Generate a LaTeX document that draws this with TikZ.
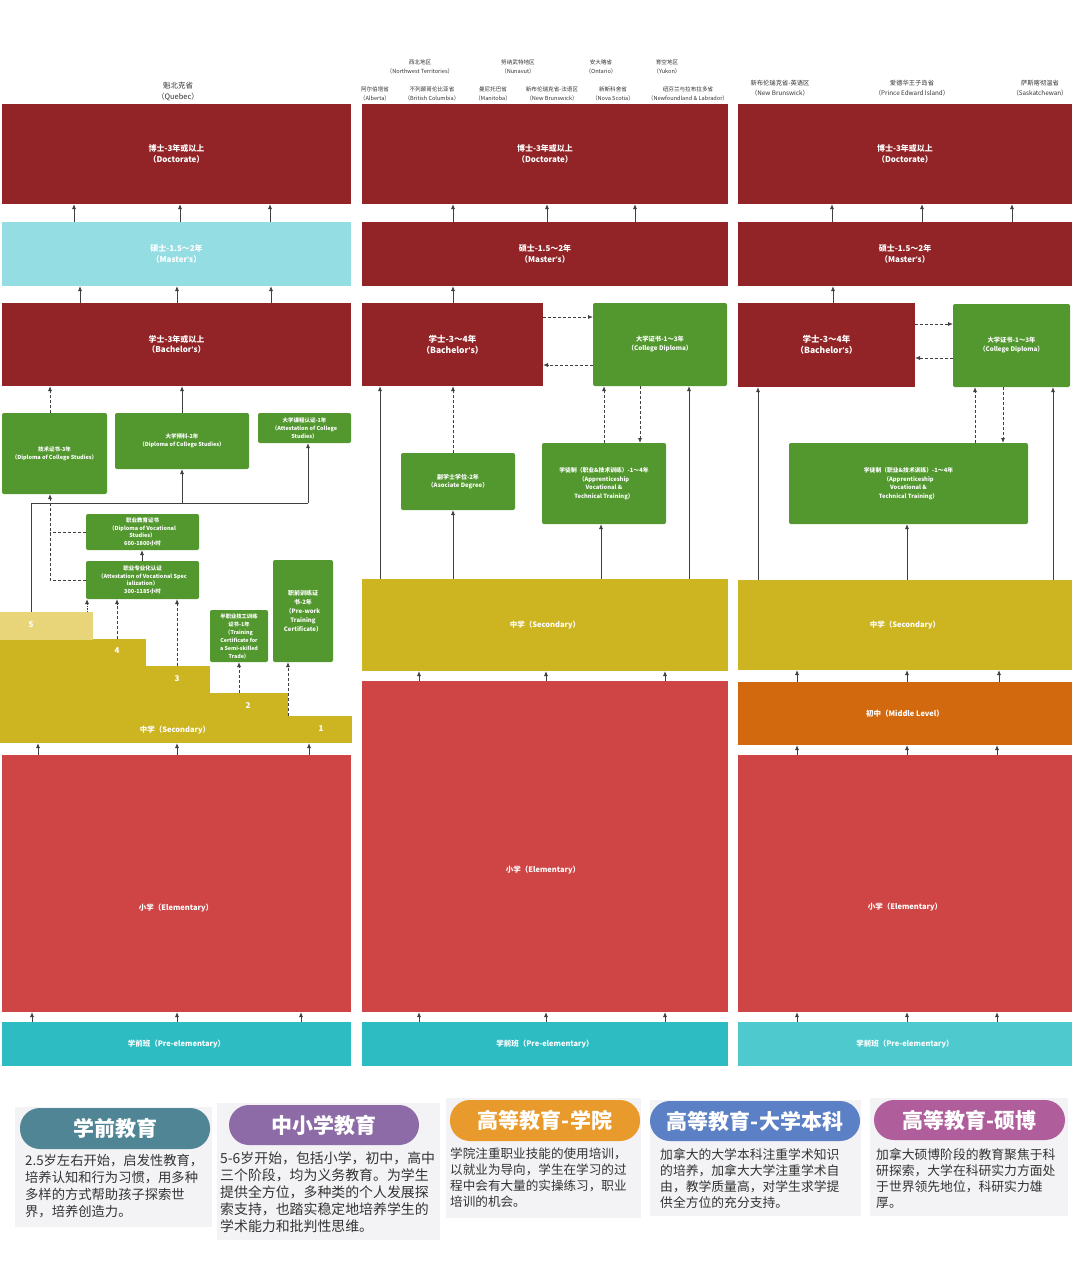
\documentclass[tikz,border=0pt]{standalone}
\usepackage{fontspec}
\setmainfont{Noto Sans CJK SC}
\newfontfamily\latf{Liberation Sans}
\usetikzlibrary{arrows.meta}
\definecolor{dred}{HTML}{922427}
\definecolor{lcyan}{HTML}{94DEE3}
\definecolor{grn}{HTML}{52982F}
\definecolor{ylw}{HTML}{CDB521}
\definecolor{lylw}{HTML}{E8D57A}
\definecolor{ered}{HTML}{CF4545}
\definecolor{teal1}{HTML}{2EBCC3}
\definecolor{teal2}{HTML}{4ECACE}
\definecolor{orng}{HTML}{D2690F}
\definecolor{arrc}{HTML}{404040}
\definecolor{hdrc}{HTML}{333333}
\definecolor{panelc}{HTML}{F3F3F5}
\definecolor{bodyc}{HTML}{333333}
\definecolor{p1}{HTML}{4F8595}
\definecolor{p2}{HTML}{8C6BA6}
\definecolor{p3}{HTML}{E89B2C}
\definecolor{p4}{HTML}{5B80C5}
\definecolor{p5}{HTML}{B05D9C}
\newcommand{\apo}{{\latf\bfseries '}}
\tikzset{
  blk/.style={inner sep=0pt, outer sep=0pt, text=white, align=center,
    font=\fontsize{8}{10.5}\selectfont\bfseries},
  gbox/.style={fill=grn, rounded corners=2pt, font=\fontsize{5.5}{8}\selectfont\bfseries},
  one/.style={font=\fontsize{7.5}{9}\selectfont\bfseries},
  arr/.style={draw=arrc, line width=0.8pt, -{Latex[length=5pt,width=4pt]}},
  darr/.style={arr, dash pattern=on 3pt off 2pt},
  dotarr/.style={arr, dash pattern=on 1.2pt off 1.2pt},
  pline/.style={draw=arrc, line width=0.8pt},
  dline/.style={draw=arrc, line width=0.8pt, dash pattern=on 3pt off 2pt},
  hdr/.style={align=center, text=hdrc, inner sep=0pt, font=\fontsize{5.6}{9}\selectfont},
  hdrq/.style={align=center, text=hdrc, inner sep=0pt, font=\fontsize{7.5}{11}\selectfont},
  stepnum/.style={text=white, inner sep=0pt, font=\fontsize{8}{9}\selectfont\bfseries},
  pill/.style={inner sep=0pt, outer sep=0pt, text=white, font=\fontsize{21}{24}\selectfont\bfseries},
  body/.style={inner sep=0pt, anchor=north west, align=left, text=bodyc},
}
\newcommand{\RB}[7]{\node[blk,#2,minimum width={(#5-#3)*1pt},minimum height={(#6-#4)*1pt}] (#1) at ({(#3+#5)/2},{(#4+#6)/2}) {#7};}
\newcommand{\up}[4][arr]{\draw[#1] (#2.north -| #4,0) -- (#3.south -| #4,0);}
\begin{document}
\begin{tikzpicture}[x=1pt,y=-1pt]
\useasboundingbox (0,0) rectangle (1080,1270);
\fill[white] (0,0) rectangle (1080,1270);

% ---------- headers
\node[hdrq] (hq) at (178,91.5) {魁北克省\\（Quebec）};
\node[hdr] (h21) at (420,67) {西北地区\\（Northwest Territories）};
\node[hdr] (h22) at (518,67) {努纳武特地区\\（Nunavut）};
\node[hdr] (h23) at (601,67) {安大略省\\（Ontario）};
\node[hdr] (h24) at (667,67) {育空地区\\（Yukon）};
\node[hdr] (h25) at (375,94) {阿尔伯塔省\\（Alberta）};
\node[hdr] (h26) at (432,94) {不列颠哥伦比亚省\\（British Columbia）};
\node[hdr] (h27) at (493,94) {曼尼托巴省\\（Manitoba）};
\node[hdr] (h28) at (552,94) {新布伦瑞克省-法语区\\（New Brunswick）};
\node[hdr] (h29) at (613,94) {新斯科舍省\\（Nova Scotia）};
\node[hdr] (h30) at (688,94) {纽芬兰与拉布拉多省\\（Newfoundland \& Labrador）};
\node[hdr,font=\fontsize{6.3}{10}\selectfont] (h31) at (780,88.5) {新布伦瑞克省-英语区\\（New Brunswick）};
\node[hdr,font=\fontsize{6.3}{10}\selectfont] (h32) at (912,88.5) {爱德华王子岛省\\（Prince Edward Island）};
\node[hdr,font=\fontsize{6.3}{10}\selectfont] (h33) at (1040,88.5) {萨斯喀彻温省\\（Saskatchewan）};

% ---------- column 1 (Quebec)
\RB{doc1}{fill=dred}{2}{104}{351}{204}{博士-3年或以上\\（Doctorate）}
\RB{mas1}{fill=lcyan}{2}{222}{351}{286}{硕士-1.5～2年\\（Master\apo s）}
\RB{bac1}{fill=dred}{2}{303}{351}{386}{学士-3年或以上\\（Bachelor\apo s）}
\RB{tec1}{gbox}{2}{413}{107}{494}{技术证书-3年\\（Diploma of College Studies）}
\RB{pre1}{gbox}{115}{413}{249}{469}{大学预科-2年\\（Diploma of College Studies）}
\RB{acs1}{gbox}{258}{413}{351}{443}{大学课程认证-1年\\（Attestation of College\\Studies）}
\RB{dvs1}{gbox,font=\fontsize{5.5}{7.6}\selectfont\bfseries}{86}{514}{199}{550}{职业教育证书\\（Diploma of Vocational\\Studies）\\600-1800小时}
\RB{avs1}{gbox,font=\fontsize{5.5}{7.6}\selectfont\bfseries}{86}{561}{199}{599}{职业专业化认证\\（Attestation of Vocational Spec\\ialization）\\300-1185小时}
\RB{tss1}{gbox,font=\fontsize{5.3}{8}\selectfont\bfseries}{210}{610}{268}{662}{半职业技工训练\\证书-1年\\（Training\\Certificate for\\a Semi-skilled\\Trade）}
\RB{pwt1}{gbox,font=\fontsize{6}{9}\selectfont\bfseries}{273}{560}{333}{662}{职前训练证\\书-2年\\（Pre-work\\Training\\Certificate）}
% staircase
\RB{s1}{fill=ylw}{0}{716}{352}{743}{}
\RB{s2}{fill=ylw}{0}{693}{288}{716.5}{}
\RB{s3}{fill=ylw}{0}{666}{210}{693.5}{}
\RB{s4}{fill=ylw}{0}{639}{146}{666.5}{}
\RB{s5}{fill=lylw}{0}{612}{93}{640}{}
\node[stepnum] (n5) at (31,625) {5};
\node[stepnum] (n4) at (117,651) {4};
\node[stepnum] (n3) at (177,679) {3};
\node[stepnum] (n2) at (248,706) {2};
\node[stepnum] (n1) at (321,729) {1};
\node[blk,one] (sec1) at (175,730) {中学（Secondary）};
\RB{ele1}{fill=ered}{2}{755}{351}{1012}{}
\node[blk,one] (ele1t) at (176,908) {小学（Elementary）};
\RB{pe1}{fill=teal1,one}{2}{1022}{351}{1066}{学前班（Pre-elementary）}

\up{mas1}{doc1}{74} \up{mas1}{doc1}{180} \up{mas1}{doc1}{270}
\up{bac1}{mas1}{80} \up{bac1}{mas1}{177} \up{bac1}{mas1}{271}
\up[darr]{tec1}{bac1}{50}
\up{pre1}{bac1}{182}
\coordinate (j1) at (31,503);
\coordinate (j2) at (308,503);
\coordinate (j3) at (182,503);
\draw[pline] (s5.north -| j1) -- (j1) -- (j2);
\draw[arr] (j2) -- (acs1.south -| j2);
\draw[arr] (j3) -- (pre1.south -| j3);
\coordinate (k1) at (50,532);
\coordinate (k2) at (50,580);
\draw[dline] (dvs1.west) -- (dvs1.west -| k1);
\draw[darr] (avs1.west) -- (avs1.west -| k2) -- (tec1.south -| k2);
\up{avs1}{dvs1}{142}
\up[dotarr]{s5}{avs1}{87}
\up[darr]{s4}{avs1}{117}
\up[darr]{s3}{avs1}{177}
\up[darr]{s2}{tss1}{239}
\up[darr]{s1}{pwt1}{288}
\up{ele1}{s1}{38} \up{ele1}{s1}{177} \up{ele1}{s1}{309}
\up{pe1}{ele1}{32} \up{pe1}{ele1}{177} \up{pe1}{ele1}{301}

% ---------- column 2
\RB{doc2}{fill=dred}{362}{104}{728}{204}{博士-3年或以上\\（Doctorate）}
\RB{mas2}{fill=dred}{362}{222}{728}{286}{硕士-1.5～2年\\（Master\apo s）}
\RB{bac2}{fill=dred,font=\fontsize{8.5}{11}\selectfont\bfseries}{362}{303}{543}{386}{学士-3～4年\\（Bachelor\apo s）}
\RB{cdp2}{gbox,font=\fontsize{6.3}{9}\selectfont\bfseries}{593}{303}{727}{386}{大学证书-1～3年\\（College Diploma）}
\RB{asd2}{gbox,font=\fontsize{6}{8.5}\selectfont\bfseries}{401}{453}{515}{510}{副学士学位-2年\\（Asociate Degree）}
\RB{app2}{gbox,font=\fontsize{5.8}{8.5}\selectfont\bfseries}{542}{443}{666}{524}{学徒制（职业\&技术训练）-1～4年\\（Apprenticeship\\Vocational \&\\Technical Training）}
\RB{sec2}{fill=ylw,one}{362}{579}{728}{671}{中学（Secondary）}
\RB{ele2}{fill=ered}{362}{681}{728}{1012}{}
\node[blk,one] (ele2t) at (543,870) {小学（Elementary）};
\RB{pe2}{fill=teal1,one}{362}{1022}{728}{1066}{学前班（Pre-elementary）}

\up{mas2}{doc2}{453} \up{mas2}{doc2}{547} \up{mas2}{doc2}{635}
\up{bac2}{mas2}{453}
\draw[darr] (bac2.east |- 0,317) -- (cdp2.west |- 0,317);
\draw[darr] (cdp2.west |- 0,365) -- (bac2.east |- 0,365);
\up[darr]{asd2}{bac2}{453}
\up[darr]{app2}{cdp2}{604}
\draw[darr] (cdp2.south -| 640,0) -- (app2.north -| 640,0);
\up{sec2}{bac2}{380}
\up{sec2}{asd2}{453}
\up{sec2}{app2}{601}
\up{sec2}{cdp2}{689}
\up{ele2}{sec2}{419} \up{ele2}{sec2}{546} \up{ele2}{sec2}{665}
\up{pe2}{ele2}{419} \up{pe2}{ele2}{546} \up{pe2}{ele2}{665}

% ---------- column 3
\RB{doc3}{fill=dred}{738}{104}{1072}{204}{博士-3年或以上\\（Doctorate）}
\RB{mas3}{fill=dred}{738}{222}{1072}{286}{硕士-1.5～2年\\（Master\apo s）}
\RB{bac3}{fill=dred,font=\fontsize{8.5}{11}\selectfont\bfseries}{738}{303}{915}{387}{学士-3～4年\\（Bachelor\apo s）}
\RB{cdp3}{gbox,font=\fontsize{6.3}{9}\selectfont\bfseries}{953}{304}{1070}{387}{大学证书-1～3年\\（College Diploma）}
\RB{app3}{gbox,font=\fontsize{5.8}{8.5}\selectfont\bfseries}{789}{443}{1028}{524}{学徒制（职业\&技术训练）-1～4年\\（Apprenticeship\\Vocational \&\\Technical Training）}
\RB{sec3}{fill=ylw,one}{738}{580}{1072}{670}{中学（Secondary）}
\RB{mid3}{fill=orng,one}{738}{682}{1072}{745}{初中（Middle Level）}
\RB{ele3}{fill=ered}{738}{755}{1072}{1012}{}
\node[blk,one] (ele3t) at (905,907) {小学（Elementary）};
\RB{pe3}{fill=teal2,one}{738}{1022}{1072}{1066}{学前班（Pre-elementary）}

\up{mas3}{doc3}{832} \up{mas3}{doc3}{922} \up{mas3}{doc3}{1012}
\up{bac3}{mas3}{833}
\draw[darr] (bac3.east |- 0,324) -- (cdp3.west |- 0,324);
\draw[darr] (cdp3.west |- 0,358) -- (bac3.east |- 0,358);
\up[darr]{app3}{cdp3}{975}
\draw[darr] (cdp3.south -| 1003,0) -- (app3.north -| 1003,0);
\up{sec3}{bac3}{758}
\up{sec3}{app3}{907}
\up{sec3}{cdp3}{1053}
\up{mid3}{sec3}{797} \up{mid3}{sec3}{907} \up{mid3}{sec3}{999}
\up{ele3}{mid3}{797} \up{ele3}{mid3}{907} \up{ele3}{mid3}{997}
\up{pe3}{ele3}{797} \up{pe3}{ele3}{907} \up{pe3}{ele3}{997}

% ---------- bottom cards
\RB{pan1}{fill=panelc}{15}{1107}{212}{1227}{}
\RB{pan2}{fill=panelc}{217}{1103}{440}{1240}{}
\RB{pan3}{fill=panelc}{446}{1098}{641}{1218}{}
\RB{pan4}{fill=panelc}{650}{1100}{861}{1216}{}
\RB{pan5}{fill=panelc}{870}{1098}{1068}{1216}{}
\node[pill,fill=p1,rounded corners=20pt,minimum width=190pt,minimum height=41pt] (t1) at (115,1128.5) {学前教育};
\node[pill,fill=p2,rounded corners=20pt,minimum width=190pt,minimum height=40pt] (t2) at (324,1125) {中小学教育};
\node[pill,fill=p3,rounded corners=20pt,minimum width=190pt,minimum height=41pt] (t3) at (545,1120.5) {高等教育-学院};
\node[pill,fill=p4,rounded corners=20pt,minimum width=210pt,minimum height=40pt] (t4) at (755,1121) {高等教育-大学本科};
\node[pill,fill=p5,rounded corners=20pt,minimum width=191pt,minimum height=40pt] (t5) at (969.5,1120) {高等教育-硕博};
\node[body,font=\fontsize{13.3}{17}\selectfont] (b1) at (25,1154) {2.5岁左右开始，启发性教育，\\培养认知和行为习惯，用多种\\多样的方式帮助孩子探索世\\界，培养创造力。};
\node[body,font=\fontsize{13.9}{17}\selectfont] (b2) at (220,1151) {5-6岁开始，包括小学，初中，高中\\三个阶段，均为义务教育。为学生\\提供全方位，多种类的个人发展探\\索支持，也踏实稳定地培养学生的\\学术能力和批判性思维。};
\node[body,font=\fontsize{12.6}{16}\selectfont] (b3) at (450,1148) {学院注重职业技能的使用培训，\\以就业为导向，学生在学习的过\\程中会有大量的实操练习，职业\\培训的机会。};
\node[body,font=\fontsize{12.8}{16}\selectfont] (b4) at (660,1148) {加拿大的大学本科注重学术知识\\的培养，加拿大大学注重学术自\\由，教学质量高，对学生求学提\\供全方位的充分支持。};
\node[body,font=\fontsize{12.8}{16}\selectfont] (b5) at (876,1148) {加拿大硕博阶段的教育聚焦于科\\研探索，大学在科研实力方面处\\于世界领先地位，科研实力雄\\厚。};
\end{tikzpicture}
\end{document}
